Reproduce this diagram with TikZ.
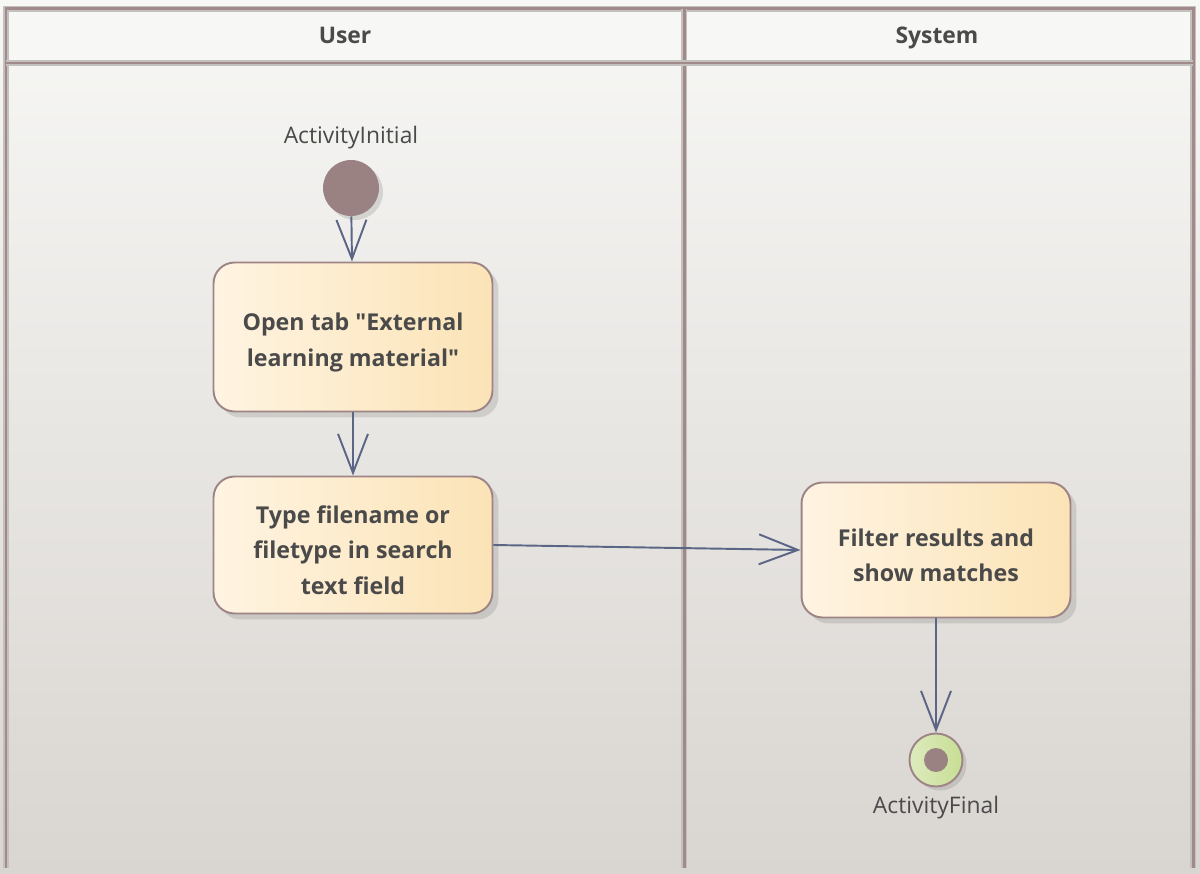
\documentclass[tikz,border=0pt]{standalone}
\usepackage{fontspec}
\setmainfont{Open Sans}
\usetikzlibrary{arrows.meta,shadows,positioning}

\definecolor{laneline}{HTML}{A08A8A}
\definecolor{lanehalo}{HTML}{C4C0BE}
\definecolor{headfill}{HTML}{F7F7F5}
\definecolor{bgtop}{HTML}{F7F7F5}
\definecolor{bgbottom}{HTML}{D9D5D1}
\definecolor{boxleft}{HTML}{FFF4E2}
\definecolor{boxright}{HTML}{FBE3B6}
\definecolor{boxline}{HTML}{9E8585}
\definecolor{flowline}{HTML}{5B6585}
\definecolor{dotfill}{HTML}{9A8282}
\definecolor{finalfill}{HTML}{C7DE93}
\definecolor{textgrey}{HTML}{4A4A4A}

\newcommand{\topgap}{\rule{0pt}{16pt}}

\begin{document}
\begin{tikzpicture}[
        x=0.02cm, y=-0.02cm,
        lane/.style={draw=laneline, line width=1.7pt, preaction={draw=lanehalo, line width=3pt}}, % Swimlane lines
        heading/.style={text=textgrey, anchor=base, font=\bfseries\fontsize{13}{16}\selectfont},
        action/.style={draw=boxline, line width=1.1pt, rounded corners=0.42cm, left color=boxleft, right color=boxright,
            minimum width=5.58cm, align=center, text=textgrey, font=\bfseries\fontsize{13.2}{20.4}\selectfont,
            drop shadow={opacity=0.25, shadow xshift=0.12cm, shadow yshift=-0.12cm}}, % Action styling
        initial/.style={circle, fill=dotfill, minimum size=1.12cm, inner sep=0pt,
            drop shadow={opacity=0.25, shadow xshift=0.08cm, shadow yshift=-0.08cm}},
        final/.style={circle, draw=boxline, line width=1.1pt, left color=finalfill!60!white, right color=finalfill,
            minimum size=1.06cm, inner sep=0pt, drop shadow={opacity=0.25, shadow xshift=0.08cm, shadow yshift=-0.08cm}},
        label/.style={text=textgrey, font=\fontsize{13}{16}\selectfont},
        flow/.style={draw=flowline, line width=1.1pt, -{Straight Barb[length=0.78cm, width=0.6cm, line width=1.1pt]}} % Arrow styling
        ]

        \useasboundingbox (0,0) rectangle (1200,874);

        % Background and swimlanes
        \shade[top color=bgtop, bottom color=bgbottom] (0,0) rectangle (1200,874);
        \fill[headfill] (6,9) rectangle (1193,63);
        \draw[lane] (6,868) -- (6,9) -- (1193,9) -- (1193,868);
        \draw[lane] (684,9) -- (684,868);
        \draw[lane] (6,63) -- (1193,63);

        \node (user) at (345,44) [heading] {User};
        \node (system) at (937,44) [heading] {System};

        % Define nodes
        \node (start) at (351,188) [initial] {};
        \node (startlabel) [label, above=0.08cm of start] {ActivityInitial};
        \node (opentab) at (353,337) [action, minimum height=2.98cm] {\topgap Open tab \textquotedbl External\\learning material\textquotedbl};
        \node (typename) at (353,545) [action, minimum height=2.74cm] {\topgap Type filename or\\filetype in search\\text field};
        \node (filter) at (936,550) [action, minimum width=5.38cm, minimum height=2.7cm] {\topgap Filter results and\\show matches};
        \node (end) at (936,760) [final] {};
        \fill[dotfill] (end.center) circle (0.24cm);
        \node (endlabel) [label, below=0.05cm of end] {ActivityFinal};

        % Draw arrows
        \draw[flow] (start) -- (opentab);
        \draw[flow] (opentab) -- (typename);
        \draw[flow] (typename.east) -- (filter.west);
        \draw[flow] (filter) -- (end);

    \end{tikzpicture}
\end{document}
